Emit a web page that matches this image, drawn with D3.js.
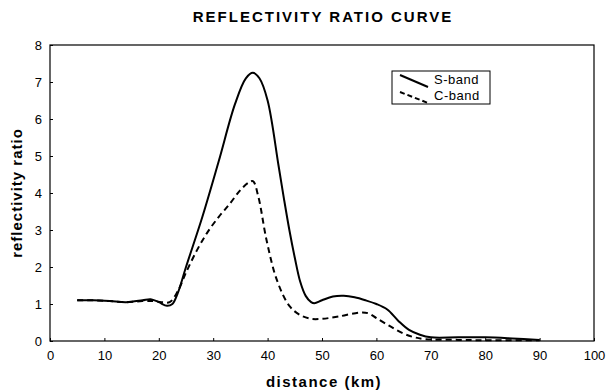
<!DOCTYPE html>
<html><head><meta charset="utf-8">
<script src="https://cdn.jsdelivr.net/npm/d3@7"></script>
<style>
body{margin:0;background:#fff;}
svg{display:block;font-family:"Liberation Sans",Arial,sans-serif;}
</style></head><body>
<svg id="c" width="607" height="392"></svg>
<script>
const xTicks = [0,10,20,30,40,50,60,70,80,90,100];
const yTicks = [0,1,2,3,4,5,6,7,8];
const sKm = [5,8,11,14,17,18.5,20,21.5,22.5,23.5,25,28,31,34,36,37.3,38.5,40,42,43,44,45,46,47,48,48.6,50,52,54,56,58,60,62,64,66,68,70,75,80,85,90];
const sVal = [1.1,1.1,1.08,1.05,1.1,1.13,1.05,0.95,1.0,1.3,2.0,3.35,4.85,6.4,7.1,7.25,7.1,6.5,4.75,3.85,3.0,2.25,1.6,1.22,1.05,1.02,1.1,1.2,1.22,1.18,1.1,1.0,0.85,0.55,0.3,0.17,0.1,0.1,0.1,0.07,0.03];
const cKm = [5,8,11,14,17,19,20.5,22,23.5,25,27,29,31,33,35,36.5,37.3,38.3,39.8,41.7,44,46,48,50,53,57,58.5,60,62.5,65,67,69,75,80,90];
const cVal = [1.1,1.1,1.08,1.05,1.08,1.08,1.05,1.05,1.35,1.85,2.45,2.95,3.35,3.7,4.08,4.28,4.32,3.9,2.73,1.65,0.95,0.7,0.6,0.6,0.66,0.77,0.75,0.62,0.4,0.2,0.1,0.05,0.03,0.02,0.02];
const seriesNames = ["S-band","C-band"];

const svg = d3.select("#c");
const L=50,R=594,T=45,B=341;
const x = d3.scaleLinear().domain([0,100]).range([L,R]);
const y = d3.scaleLinear().domain([0,8]).range([B,T]);

svg.append("text").attr("x",323).attr("y",22).attr("text-anchor","middle")
  .attr("font-size",15).attr("font-weight","bold").attr("letter-spacing","2px").text("REFLECTIVITY RATIO CURVE");

svg.append("rect").attr("x",L).attr("y",T).attr("width",R-L).attr("height",B-T)
  .attr("fill","none").attr("stroke","#000").attr("stroke-width",1.2);

const xa = svg.append("g").attr("transform",`translate(0,${B})`)
  .call(d3.axisBottom(x).tickValues(xTicks).tickSize(-3).tickPadding(7).tickFormat(d3.format("d")));
const ya = svg.append("g").attr("transform",`translate(${L},0)`)
  .call(d3.axisLeft(y).tickValues(yTicks).tickSize(-3).tickPadding(8).tickFormat(d3.format("d")));
[xa,ya].forEach(a=>{a.select(".domain").remove();a.selectAll("text").attr("font-size",13).attr("font-family","'Liberation Sans',Arial,sans-serif").attr("fill","#000");a.selectAll("line").attr("stroke","#000");});
xa.selectAll("text").attr("dy","0.9em");

svg.append("text").attr("x",324).attr("y",387).attr("text-anchor","middle")
  .attr("font-size",15).attr("font-weight","bold").attr("letter-spacing","1.5px").text("distance (km)");
svg.append("text").attr("transform","translate(22,193) rotate(-90)").attr("text-anchor","middle")
  .attr("font-size",15).attr("font-weight","bold").attr("letter-spacing","1px").text("reflectivity ratio");

const line = d3.line().x(d=>x(d[0])).y(d=>y(d[1])).curve(d3.curveCatmullRom.alpha(0.5));
svg.append("path").datum(sKm.map((k,i)=>[k,sVal[i]])).attr("d",line)
  .attr("fill","none").attr("stroke","#000").attr("stroke-width",2);
svg.append("path").datum(cKm.map((k,i)=>[k,cVal[i]])).attr("d",line)
  .attr("fill","none").attr("stroke","#000").attr("stroke-width",2).attr("stroke-dasharray","6,4");

const lg = svg.append("g");
lg.append("rect").attr("x",392).attr("y",71).attr("width",98).attr("height",33)
  .attr("fill","#fff").attr("stroke","#000").attr("stroke-width",1);
lg.append("line").attr("x1",400).attr("y1",75).attr("x2",428).attr("y2",87)
  .attr("stroke","#000").attr("stroke-width",2);
lg.append("line").attr("x1",400).attr("y1",92).attr("x2",428).attr("y2",103)
  .attr("stroke","#000").attr("stroke-width",2).attr("stroke-dasharray","5,3");
lg.append("text").attr("x",434).attr("y",84).attr("font-size",13).attr("letter-spacing","0.5px").text(seriesNames[0]);
lg.append("text").attr("x",434).attr("y",100).attr("font-size",13).attr("letter-spacing","0.5px").text(seriesNames[1]);
</script></body></html>
